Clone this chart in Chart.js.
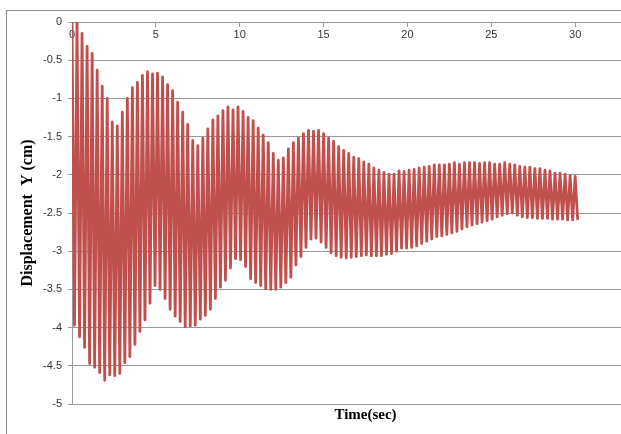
<!DOCTYPE html>
<html>
<head>
<meta charset="utf-8">
<script src="https://cdn.jsdelivr.net/npm/chart.js@4.4.1/dist/chart.umd.min.js"></script>
<style>
  html, body { margin: 0; padding: 0; background: #fff; overflow: hidden; }
  #wrap { position: relative; width: 621px; height: 434px; overflow: hidden; }
  #chart { position: absolute; left: 0; top: 0; }
  #frame { position: absolute; left: 6px; top: 10px; width: 700px; height: 500px;
           border: 1px solid #8c8c8c; pointer-events: none; }
</style>
</head>
<body>
<div id="wrap">
  <canvas id="chart" width="680" height="434"></canvas>
  <div id="frame"></div>
</div>
<script>
// sampling step between two peaks (sec)
const timeStep = 0.3;

// upper turning points, one per cycle (cm)
const peaks = [
  0, 0, -0.15, -0.32, -0.41, -0.63, -0.84, -1.0, -1.31, -1.36,
  -1.18, -1.0, -0.86, -0.79, -0.7, -0.65, -0.68, -0.67, -0.72, -0.82,
  -0.9, -1.05, -1.18, -1.34, -1.55, -1.62, -1.52, -1.4, -1.28, -1.23,
  -1.16, -1.11, -1.15, -1.11, -1.17, -1.25, -1.29, -1.39, -1.48, -1.58,
  -1.72, -1.81, -1.78, -1.66, -1.58, -1.52, -1.46, -1.42, -1.43, -1.42,
  -1.46, -1.52, -1.56, -1.63, -1.68, -1.72, -1.77, -1.79, -1.83, -1.86,
  -1.91, -1.94, -1.97, -1.99, -1.99, -1.95, -1.96, -1.94, -1.93, -1.91,
  -1.9, -1.89, -1.87, -1.87, -1.87, -1.86, -1.84, -1.86, -1.84, -1.84,
  -1.84, -1.85, -1.84, -1.84, -1.86, -1.86, -1.84, -1.86, -1.87, -1.89,
  -1.9, -1.9, -1.92, -1.92, -1.94, -1.95, -1.98, -1.98, -1.99, -2.01,
  -2.02
];

// lower turning points, half a step after each peak (cm)
const troughs = [
  -3.97, -4.12, -4.26, -4.47, -4.52, -4.59, -4.69, -4.62, -4.63, -4.6,
  -4.46, -4.38, -4.22, -4.05, -3.9, -3.68, -3.45, -3.5, -3.62, -3.76,
  -3.85, -3.92, -3.99, -3.98, -3.97, -3.89, -3.84, -3.76, -3.62, -3.47,
  -3.38, -3.22, -3.1, -3.11, -3.2, -3.36, -3.41, -3.45, -3.49, -3.5,
  -3.5, -3.47, -3.41, -3.34, -3.18, -3.07, -2.95, -2.84, -2.83, -2.88,
  -2.95, -3.02, -3.06, -3.08, -3.09, -3.08, -3.07, -3.06, -3.05, -3.06,
  -3.06, -3.06, -3.04, -3.03, -3.0, -2.96, -2.96, -2.95, -2.93, -2.9,
  -2.87, -2.84, -2.81, -2.8, -2.78, -2.76, -2.74, -2.71, -2.68, -2.66,
  -2.64, -2.62, -2.6, -2.58, -2.55, -2.53, -2.51, -2.5, -2.53, -2.55,
  -2.56, -2.56, -2.57, -2.57, -2.57, -2.58, -2.58, -2.58, -2.59, -2.59,
  -2.59
];

const points = [];
peaks.forEach((p, i) => {
  points.push({ x: i * timeStep, y: p });
  points.push({ x: (i + 0.5) * timeStep, y: troughs[i] });
});

const gridColor = '#9a9a9a';
const labelFont = { family: 'Liberation Sans', size: 11 };
const titleFont = { family: 'Liberation Serif', size: 15, weight: 'bold' };

new Chart(document.getElementById('chart').getContext('2d'), {
  type: 'line',
  data: {
    datasets: [{
      data: points,
      borderColor: '#c0504d',
      borderWidth: 2.8,
      borderJoinStyle: 'round',
      pointRadius: 0,
      tension: 0
    }]
  },
  options: {
    responsive: false,
    animation: false,
    devicePixelRatio: 1,
    layout: { padding: { left: 18, top: 22, right: 21, bottom: 8 } },
    plugins: {
      legend: { display: false },
      tooltip: { enabled: false },
      title: {
        display: true,
        text: 'Time(sec)',
        position: 'bottom',
        fullSize: false,
        color: '#000',
        font: titleFont,
        padding: { top: 2, bottom: 2 }
      }
    },
    scales: {
      x: {
        type: 'linear',
        position: { y: 0 },
        min: 0,
        max: 35,
        ticks: { stepSize: 5, color: '#333', font: labelFont, padding: 2, maxRotation: 0 },
        grid: { drawOnChartArea: false, drawTicks: true, tickLength: 4, color: gridColor },
        border: { color: gridColor }
      },
      y: {
        min: -5,
        max: 0,
        ticks: {
          stepSize: 0.5,
          color: '#333',
          font: labelFont,
          padding: 6,
          callback: (v) => String(+v.toFixed(2))
        },
        grid: { color: gridColor, tickLength: 4 },
        border: { color: gridColor },
        title: {
          display: true,
          text: 'Displacement  Y (cm)',
          color: '#000',
          font: { family: 'Liberation Serif', size: 16, weight: 'bold' },
          padding: 0
        },
        afterFit: (scale) => { scale.width = 54; }
      }
    }
  }
});
</script>
</body>
</html>
